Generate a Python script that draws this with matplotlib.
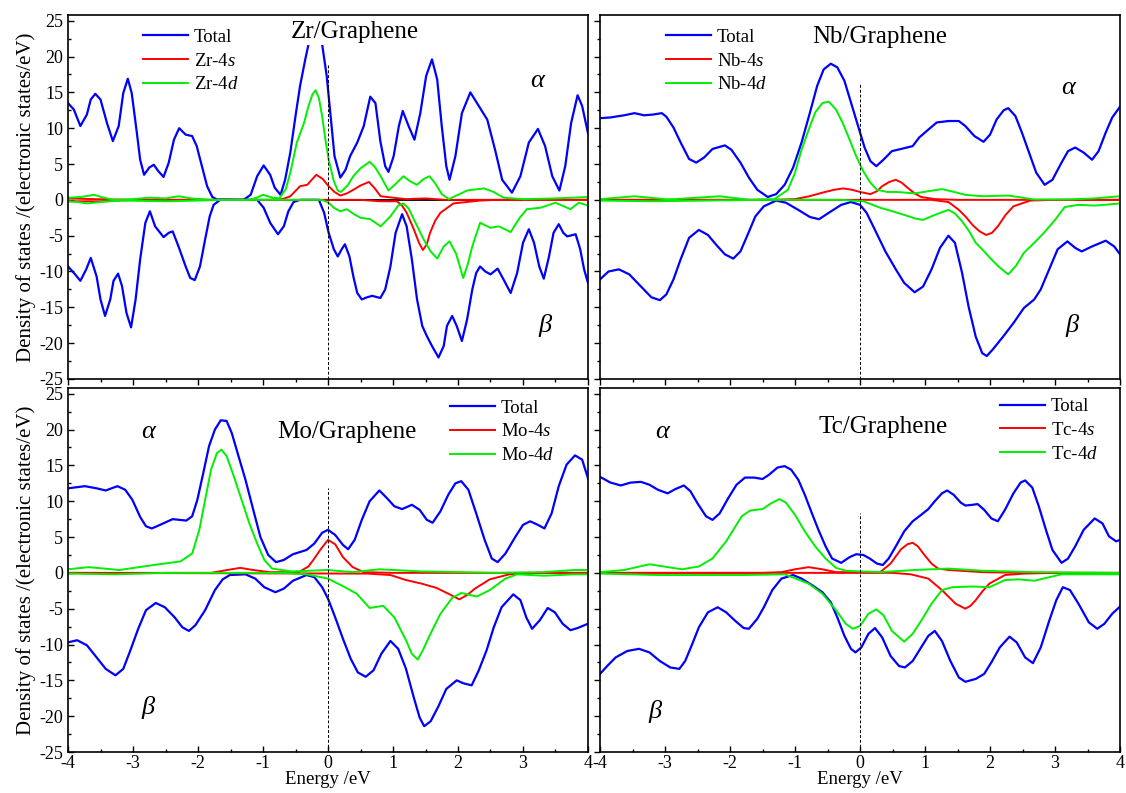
import matplotlib
matplotlib.use("Agg")
import matplotlib.pyplot as plt
from matplotlib.ticker import MultipleLocator

plt.rcParams['font.family'] = ['Liberation Serif', 'DejaVu Serif']
plt.rcParams['mathtext.fontset'] = 'custom'
plt.rcParams['mathtext.rm'] = 'Liberation Serif'
plt.rcParams['mathtext.it'] = 'Liberation Serif:italic'
plt.rcParams['axes.unicode_minus'] = False

# ---- data: (energy eV, DOS) ----
zr_tot_up = [(-4.0,13.5),(-3.91,12.6),(-3.81,10.3),(-3.71,11.9),(-3.65,14.0),(-3.58,14.8),(-3.50,14.0),
             (-3.40,10.7),(-3.31,8.2),(-3.22,10.3),(-3.15,14.9),(-3.08,16.9),(-3.02,14.9),(-2.94,9.3),
             (-2.89,5.6),(-2.83,3.5),(-2.75,4.5),(-2.68,4.9),(-2.61,4.0),(-2.53,3.2),(-2.45,5.2),
             (-2.37,8.4),(-2.29,10.0),(-2.19,9.1),(-2.09,8.9),(-2.02,7.5),(-1.94,4.7),(-1.86,1.9),
             (-1.78,0.4),(-1.71,0.05),(-1.30,0.0),(-1.19,0.7),(-1.09,3.3),(-0.99,4.8),(-0.89,3.5),
             (-0.82,1.7),(-0.73,0.7),(-0.66,2.8),(-0.58,6.6),(-0.50,11.7),(-0.43,15.9),(-0.35,19.6),
             (-0.30,21.7),(-0.2,24.5),(-0.09,21.7),(-0.02,17.3),(0.04,11.7),(0.10,6.1),(0.19,3.1),
             (0.27,4.2),(0.34,6.1),(0.45,8.0),(0.55,10.3),(0.65,14.4),(0.73,13.5),(0.805,8.2),(0.88,4.7),
             (0.93,3.9),(1.01,6.1),(1.09,10.3),(1.15,12.4),(1.24,10.3),(1.33,8.4),(1.42,12.1),(1.51,17.3),
             (1.60,19.6),(1.68,16.8),(1.75,10.3),(1.82,4.7),(1.87,2.8),(1.96,6.1),(2.06,12.1),(2.19,15.0),
             (2.32,13.1),(2.45,11.2),(2.57,7.0),(2.68,2.8),(2.83,1.0),(2.96,3.3),(3.09,8.0),(3.23,9.9),
             (3.34,7.5),(3.45,3.3),(3.56,1.3),(3.65,4.7),(3.74,10.7),(3.84,14.6),(3.91,13.1),(4.0,9.3)]
zr_tot_dn = [(-4.0,-9.3),(-3.91,-10.2),(-3.81,-11.3),(-3.72,-9.7),(-3.65,-8.1),(-3.56,-10.7),
             (-3.50,-13.9),(-3.43,-16.2),(-3.35,-13.9),(-3.30,-11.3),(-3.23,-10.3),(-3.17,-12.0),
             (-3.10,-15.8),(-3.03,-17.8),(-2.96,-13.9),(-2.89,-8.3),(-2.81,-3.2),(-2.74,-1.6),
             (-2.66,-3.7),(-2.53,-5.2),(-2.45,-4.6),(-2.39,-4.4),(-2.30,-6.5),(-2.19,-9.3),(-2.12,-10.9),
             (-2.05,-11.2),(-1.97,-9.3),(-1.89,-5.5),(-1.82,-2.3),(-1.76,-0.7),(-1.66,0.0),(-1.09,0.0),
             (-0.99,-1.1),(-0.89,-3.2),(-0.77,-4.8),(-0.68,-3.7),(-0.61,-1.6),(-0.53,-0.3),(-0.43,0.0),
             (-0.14,0.0),(-0.06,-1.8),(0.01,-4.6),(0.09,-6.9),(0.15,-7.9),(0.21,-6.9),(0.26,-6.2),
             (0.33,-7.9),(0.39,-10.7),(0.45,-13.0),(0.52,-13.9),(0.60,-13.6),(0.68,-13.4),(0.805,-13.7),
             (0.88,-12.5),(0.96,-9.3),(1.04,-4.6),(1.14,-2.0),(1.21,-3.7),(1.29,-8.3),(1.37,-13.9),
             (1.45,-17.6),(1.52,-19.0),(1.60,-20.4),(1.70,-22.0),(1.78,-20.4),(1.83,-17.6),(1.91,-16.2),
             (1.98,-17.6),(2.06,-19.7),(2.14,-16.7),(2.22,-12.5),(2.28,-10.2),(2.34,-9.3),(2.42,-10.0),
             (2.50,-10.4),(2.61,-9.6),(2.70,-11.1),(2.81,-13.0),(2.91,-10.2),(3.00,-6.0),(3.09,-4.1),
             (3.17,-6.0),(3.25,-9.3),(3.32,-11.0),(3.40,-7.9),(3.47,-4.6),(3.55,-3.4),(3.62,-4.6),
             (3.68,-5.1),(3.81,-4.8),(3.88,-6.9),(3.94,-9.7),(4.0,-11.6)]
zr_s_up = [(-4.0,0.2),(-3.6,0.1),(-3.0,0.0),(-0.9,0.0),(-0.7,0.1),(-0.58,0.5),(-0.43,1.9),(-0.32,2.1),
           (-0.25,2.8),(-0.18,3.5),(-0.08,2.9),(0.01,1.9),(0.10,1.1),(0.19,0.6),(0.29,0.9),(0.39,1.4),
           (0.5,2.0),(0.63,2.5),(0.72,1.6),(0.81,0.5),(1.0,0.3),(1.2,0.1),(1.5,0.2),(1.8,0.0),(4.0,0.0)]
zr_s_dn = [(-4.0,-0.2),(-3.5,-0.2),(-3.0,0.0),(0.5,0.0),(0.805,-0.2),(1.06,-0.2),(1.14,-0.8),
           (1.21,-1.8),(1.32,-4.1),(1.40,-6.0),(1.46,-7.0),(1.52,-6.2),(1.57,-4.6),(1.65,-2.9),
           (1.73,-1.8),(1.93,-0.5),(2.34,-0.1),(2.6,0.0),(4.0,0.0)]
zr_d_up = [(-4.0,0.3),(-3.8,0.4),(-3.6,0.7),(-3.45,0.3),(-3.3,0.0),(-3.0,0.1),(-2.75,0.3),(-2.5,0.2),
           (-2.3,0.5),(-2.1,0.2),(-1.8,0.0),(-1.2,0.0),(-1.1,0.3),(-1.0,0.7),(-0.85,0.3),(-0.75,0.2),
           (-0.65,1.5),(-0.58,3.8),(-0.48,8.0),(-0.37,10.7),(-0.30,13.1),(-0.24,14.7),(-0.19,15.3),
           (-0.14,14.2),(-0.09,11.7),(-0.04,8.4),(0.01,5.6),(0.09,2.6),(0.15,1.3),(0.20,1.1),(0.3,2.0),
           (0.39,3.3),(0.5,4.4),(0.64,5.3),(0.72,4.6),(0.81,3.3),(0.93,1.3),(1.05,2.3),(1.16,3.3),
           (1.26,2.6),(1.37,2.1),(1.47,2.9),(1.56,3.3),(1.65,2.3),(1.75,0.8),(1.86,0.1),(2.0,0.7),
           (2.14,1.3),(2.40,1.6),(2.55,1.1),(2.70,0.3),(3.01,0.1),(3.5,0.2),(4.0,0.4)]
zr_d_dn = [(-4.0,-0.2),(-3.85,-0.3),(-3.7,-0.5),(-3.5,-0.3),(-3.2,-0.1),(-2.5,-0.2),(-2.0,-0.1),
           (-1.6,0.0),(-0.1,0.0),(0.01,-0.4),(0.09,-1.1),(0.19,-1.6),(0.29,-1.3),(0.4,-2.0),(0.5,-2.5),
           (0.65,-2.7),(0.81,-3.7),(0.96,-2.3),(1.08,-0.8),(1.16,-0.5),(1.24,-1.2),(1.32,-2.7),
           (1.47,-5.5),(1.58,-7.2),(1.68,-8.2),(1.78,-6.5),(1.87,-5.8),(1.97,-7.5),(2.08,-10.9),
           (2.15,-9.0),(2.22,-6.5),(2.34,-3.2),(2.50,-3.9),(2.63,-3.7),(2.81,-4.5),(2.95,-2.5),
           (3.06,-1.3),(3.27,-1.1),(3.50,-0.4),(3.73,-1.3),(3.86,-0.4),(4.0,-0.8)]

nb_tot_up = [(-4.0,11.4),(-3.84,11.5),(-3.63,11.8),(-3.47,12.1),(-3.32,11.8),(-3.19,11.9),(-3.05,12.1),
             (-2.98,11.6),(-2.87,10.1),(-2.76,8.0),(-2.63,5.7),(-2.52,5.2),(-2.40,5.9),(-2.27,7.1),
             (-2.08,7.6),(-1.98,7.0),(-1.84,5.2),(-1.71,3.1),(-1.58,1.4),(-1.42,0.4),(-1.29,0.8),
             (-1.16,2.1),(-1.03,4.5),(-0.90,8.0),(-0.77,12.2),(-0.66,15.9),(-0.56,18.2),(-0.45,19.0),
             (-0.35,18.5),(-0.24,16.6),(-0.14,13.6),(-0.03,10.3),(0.07,7.3),(0.16,5.4),(0.25,4.7),
             (0.36,5.6),(0.49,6.8),(0.63,7.1),(0.81,7.5),(0.91,8.7),(1.05,9.8),(1.18,10.8),(1.36,11.0),
             (1.52,11.0),(1.62,10.3),(1.76,8.9),(1.90,8.1),(2.0,9.1),(2.10,11.2),(2.21,12.5),(2.28,12.8),
             (2.39,11.7),(2.49,9.4),(2.60,6.6),(2.71,3.8),(2.84,2.1),(2.96,2.8),(3.10,5.2),(3.20,6.8),
             (3.31,7.3),(3.44,6.6),(3.57,5.6),(3.67,6.8),(3.78,9.4),(3.88,11.5),(4.0,13.0)]
nb_tot_dn = [(-4.0,-11.1),(-3.87,-10.0),(-3.71,-9.7),(-3.55,-10.4),(-3.37,-12.1),(-3.21,-13.6),
             (-3.08,-14.0),(-2.98,-13.2),(-2.87,-11.1),(-2.76,-8.3),(-2.63,-5.3),(-2.48,-4.2),
             (-2.34,-4.9),(-2.21,-6.3),(-2.08,-7.6),(-1.95,-8.2),(-1.84,-7.2),(-1.74,-5.1),(-1.61,-2.3),
             (-1.48,-0.9),(-1.29,-0.1),(-1.14,-0.4),(-0.95,-1.4),(-0.77,-2.4),(-0.63,-2.7),(-0.48,-1.8),
             (-0.29,-0.7),(-0.14,-0.3),(0.0,-0.7),(0.10,-1.8),(0.23,-4.2),(0.39,-7.2),(0.55,-9.7),
             (0.68,-11.6),(0.84,-12.9),(0.97,-12.1),(1.10,-9.7),(1.23,-6.7),(1.36,-5.0),(1.46,-6.0),
             (1.57,-10.2),(1.67,-14.9),(1.78,-19.1),(1.88,-21.4),(1.95,-21.8),(2.04,-20.9),(2.20,-19.1),
             (2.36,-17.2),(2.52,-15.1),(2.68,-13.9),(2.78,-12.5),(2.91,-9.7),(3.04,-6.9),(3.19,-5.8),
             (3.31,-6.7),(3.41,-7.2),(3.57,-6.5),(3.78,-5.7),(3.91,-6.5),(4.0,-7.6)]
nb_s_up = [(-4.0,0.0),(-1.3,0.0),(-1.0,0.1),(-0.78,0.5),(-0.58,1.0),(-0.40,1.4),(-0.26,1.6),(-0.12,1.4),
           (0.0,1.1),(0.16,0.8),(0.26,1.2),(0.34,1.9),(0.45,2.5),(0.55,2.8),(0.64,2.4),(0.73,1.7),
           (0.84,0.9),(0.94,0.4),(1.15,0.1),(1.5,0.0),(4.0,0.0)]
nb_s_dn = [(-4.0,0.0),(1.10,0.0),(1.36,-0.3),(1.52,-1.4),(1.63,-2.4),(1.73,-3.5),(1.84,-4.4),
           (1.94,-4.9),(2.03,-4.6),(2.12,-3.7),(2.24,-2.1),(2.36,-0.9),(2.62,-0.1),(3.0,0.0),(4.0,0.0)]
nb_d_up = [(-4.0,0.1),(-3.47,0.5),(-2.95,0.05),(-2.16,0.5),(-1.69,0.0),(-1.32,0.1),(-1.11,1.4),
           (-1.0,3.8),(-0.90,7.0),(-0.79,9.8),(-0.69,12.2),(-0.58,13.5),(-0.48,13.7),(-0.37,12.6),
           (-0.27,10.8),(-0.16,8.4),(-0.06,6.1),(0.05,4.0),(0.15,2.5),(0.26,1.4),(0.42,1.1),(0.57,1.1),
           (0.84,0.9),(1.05,1.2),(1.26,1.5),(1.45,1.1),(1.62,0.7),(1.89,0.5),(2.28,0.6),(2.50,0.3),
           (2.68,0.05),(3.2,0.05),(3.6,0.2),(4.0,0.5)]
nb_d_dn = [(-4.0,-0.1),(-3.2,-0.2),(-1.5,0.0),(-0.3,0.0),(0.05,-0.2),(0.31,-1.1),(0.50,-1.6),
           (0.68,-2.1),(0.85,-2.6),(0.97,-2.8),(1.15,-2.1),(1.36,-1.4),(1.46,-1.9),(1.57,-3.0),
           (1.68,-4.4),(1.78,-6.0),(1.89,-7.0),(1.99,-8.0),(2.13,-9.3),(2.28,-10.4),(2.40,-9.2),
           (2.52,-7.4),(2.68,-6.0),(2.83,-4.6),(3.0,-2.8),(3.15,-1.0),(3.36,-0.7),(3.62,-0.8),
           (4.0,-0.5)]

mo_tot_up = [(-4.0,11.8),(-3.74,12.1),(-3.56,11.8),(-3.42,11.5),(-3.24,12.1),(-3.12,11.6),(-3.01,10.2),
             (-2.89,7.8),(-2.80,6.5),(-2.71,6.2),(-2.56,6.8),(-2.39,7.5),(-2.18,7.3),(-2.09,7.9),
             (-2.01,10.2),(-1.92,13.9),(-1.83,17.7),(-1.74,20.0),(-1.65,21.3),(-1.56,21.2),(-1.48,19.5),
             (-1.39,16.7),(-1.27,13.0),(-1.15,8.8),(-1.04,5.0),(-0.92,2.5),(-0.80,1.5),(-0.68,1.8),
             (-0.54,2.6),(-0.33,3.2),(-0.21,4.1),(-0.09,5.6),(0.0,6.0),(0.11,5.3),(0.23,3.9),(0.31,3.3),
             (0.41,4.6),(0.52,7.4),(0.64,10.0),(0.79,11.5),(0.91,10.4),(1.02,9.3),(1.14,8.9),(1.29,9.5),
             (1.41,8.8),(1.52,7.4),(1.61,7.0),(1.73,8.6),(1.85,10.9),(1.96,12.5),(2.05,12.8),(2.16,11.6),
             (2.28,8.3),(2.41,4.6),(2.52,2.0),(2.61,1.5),(2.73,2.7),(2.88,5.0),(3.0,6.7),(3.11,7.2),
             (3.23,6.7),(3.33,6.2),(3.44,8.3),(3.55,12.1),(3.67,15.1),(3.80,16.4),(3.91,15.8),(4.0,13.2)]
mo_tot_dn = [(-4.0,-9.7),(-3.86,-9.4),(-3.71,-10.1),(-3.56,-11.8),(-3.42,-13.4),(-3.27,-14.3),
             (-3.15,-13.4),(-3.04,-10.8),(-2.92,-7.8),(-2.80,-5.2),(-2.65,-4.2),(-2.51,-4.8),
             (-2.36,-6.2),(-2.24,-7.6),(-2.14,-8.1),(-2.04,-7.3),(-1.89,-5.2),(-1.74,-2.4),(-1.62,-0.9),
             (-1.51,-0.3),(-1.27,-0.2),(-1.12,-0.8),(-0.98,-2.0),(-0.81,-2.7),(-0.68,-2.2),(-0.54,-1.1),
             (-0.33,-0.3),(-0.21,-0.6),(-0.09,-2.0),(0.0,-3.6),(0.11,-6.2),(0.23,-9.2),(0.35,-12.0),
             (0.46,-13.9),(0.58,-14.5),(0.70,-13.6),(0.82,-11.3),(0.96,-9.5),(1.08,-10.6),(1.20,-13.4),
             (1.32,-17.4),(1.41,-20.2),(1.48,-21.4),(1.58,-20.7),(1.70,-18.6),(1.82,-16.2),(1.98,-15.0),
             (2.08,-15.4),(2.21,-15.7),(2.32,-13.6),(2.44,-10.8),(2.55,-7.6),(2.67,-4.8),(2.85,-3.0),
             (2.96,-3.8),(3.05,-6.2),(3.14,-7.8),(3.26,-6.6),(3.38,-4.9),(3.49,-5.5),(3.61,-7.1),
             (3.73,-8.0),(3.84,-7.7),(4.0,-7.1)]
mo_s_up = [(-4.0,0.0),(-1.8,0.0),(-1.55,0.4),(-1.35,0.7),(-1.15,0.4),(-0.9,0.1),(-0.45,0.1),
           (-0.30,0.9),(-0.21,2.0),(-0.12,3.2),(0.0,4.6),(0.11,4.0),(0.23,2.2),(0.38,0.8),(0.55,0.1),
           (1.0,0.0),(4.0,0.0)]
mo_s_dn = [(-4.0,0.0),(0.61,-0.1),(0.96,-0.3),(1.2,-1.0),(1.44,-1.5),(1.67,-2.1),(1.85,-2.9),
           (2.02,-3.7),(2.14,-3.1),(2.26,-2.2),(2.49,-0.9),(2.79,-0.2),(3.2,0.0),(4.0,0.0)]
mo_d_up = [(-4.0,0.5),(-3.68,0.8),(-3.21,0.4),(-2.68,1.1),(-2.27,1.6),(-2.09,2.7),(-1.98,6.0),
           (-1.89,10.2),(-1.80,14.4),(-1.71,16.7),(-1.64,17.2),(-1.56,16.3),(-1.45,13.5),(-1.33,10.2),
           (-1.21,6.9),(-1.09,4.1),(-0.98,1.8),(-0.86,0.6),(-0.56,0.2),(0.0,0.4),(0.38,0.1),(0.79,0.5),
           (1.44,0.2),(2.02,0.1),(2.61,0.0),(3.32,0.1),(3.79,0.4),(4.0,0.4)]
mo_d_dn = [(-4.0,-0.1),(-3.27,-0.2),(-2.5,0.0),(-0.7,0.0),(-0.33,-0.2),(0.0,-0.8),(0.26,-2.0),
           (0.44,-2.9),(0.64,-4.9),(0.85,-4.6),(1.02,-6.2),(1.2,-9.4),(1.29,-11.3),(1.38,-12.1),
           (1.46,-10.8),(1.55,-9.0),(1.73,-5.7),(1.91,-3.5),(2.05,-2.8),(2.29,-3.3),(2.49,-2.4),
           (2.73,-0.8),(2.91,-0.2),(3.32,-0.4),(3.79,-0.2),(4.0,-0.2)]

tc_tot_up = [(-4.0,13.4),(-3.84,12.6),(-3.68,12.2),(-3.53,12.6),(-3.37,12.7),(-3.24,12.3),(-3.11,11.6),
             (-2.96,11.1),(-2.84,11.7),(-2.71,12.2),(-2.61,11.4),(-2.50,9.7),(-2.37,7.9),(-2.27,7.4),
             (-2.16,8.3),(-2.03,10.4),(-1.90,12.3),(-1.77,13.3),(-1.63,13.3),(-1.50,13.1),(-1.40,13.7),
             (-1.27,14.7),(-1.16,14.9),(-1.06,14.4),(-0.95,13.0),(-0.85,10.9),(-0.74,8.3),(-0.64,6.0),
             (-0.53,3.7),(-0.43,2.0),(-0.29,1.4),(-0.16,2.2),(-0.06,2.6),(0.05,2.5),(0.15,2.0),
             (0.26,1.3),(0.35,1.1),(0.44,2.0),(0.55,3.7),(0.68,5.8),(0.81,7.2),(0.94,8.1),(1.05,8.9),
             (1.15,10.0),(1.26,11.1),(1.34,11.5),(1.44,10.9),(1.55,9.8),(1.62,9.4),(1.73,9.5),(1.81,9.6),
             (1.91,8.8),(2.02,7.6),(2.12,7.2),(2.23,8.8),(2.36,11.1),(2.47,12.6),(2.54,12.9),(2.65,11.9),
             (2.75,9.3),(2.86,6.0),(2.96,3.2),(3.10,1.4),(3.20,2.0),(3.31,3.7),(3.44,6.0),(3.61,7.6),
             (3.73,6.9),(3.83,5.1),(3.94,4.4),(4.0,4.6)]
tc_tot_dn = [(-4.0,-14.1),(-3.89,-13.0),(-3.76,-11.8),(-3.58,-10.9),(-3.40,-10.6),(-3.24,-11.1),
             (-3.08,-12.3),(-2.92,-13.2),(-2.78,-13.4),(-2.69,-12.3),(-2.58,-9.9),(-2.48,-7.6),
             (-2.34,-5.5),(-2.19,-4.8),(-2.06,-5.5),(-1.92,-6.7),(-1.79,-7.7),(-1.71,-7.8),(-1.58,-6.4),
             (-1.48,-4.8),(-1.35,-2.4),(-1.21,-0.8),(-1.03,-0.3),(-0.90,-0.8),(-0.74,-1.7),(-0.58,-2.7),
             (-0.45,-4.1),(-0.35,-6.2),(-0.24,-8.8),(-0.14,-10.6),(-0.07,-11.1),(0.02,-10.4),(0.13,-8.5),
             (0.23,-7.7),(0.34,-9.0),(0.47,-11.6),(0.60,-13.0),(0.69,-13.2),(0.81,-12.3),(0.94,-10.4),
             (1.05,-8.8),(1.15,-8.1),(1.26,-9.5),(1.39,-12.3),(1.52,-14.6),(1.62,-15.2),(1.78,-14.8),
             (1.91,-14.1),(2.02,-12.5),(2.15,-10.4),(2.30,-8.9),(2.41,-9.7),(2.54,-11.8),(2.66,-12.6),
             (2.78,-10.4),(2.91,-6.7),(3.02,-3.8),(3.12,-2.0),(3.23,-2.4),(3.36,-4.3),(3.52,-6.9),
             (3.65,-7.8),(3.76,-7.1),(3.88,-5.7),(4.0,-4.7)]
tc_s_up = [(-4.0,0.0),(-1.5,0.0),(-1.21,0.1),(-1.0,0.5),(-0.79,0.8),(-0.58,0.5),(-0.37,0.1),(0.31,0.1),
           (0.47,1.3),(0.63,3.3),(0.73,4.0),(0.81,4.2),(0.89,3.7),(0.99,2.5),(1.10,1.3),(1.20,0.6),
           (1.36,0.4),(1.89,0.1),(2.5,0.0),(4.0,0.0)]
tc_s_dn = [(-4.0,0.0),(0.5,0.0),(0.78,-0.2),(1.05,-0.8),(1.26,-2.4),(1.37,-3.4),(1.47,-4.3),
           (1.62,-5.0),(1.70,-4.6),(1.78,-3.8),(1.89,-2.5),(1.99,-1.5),(2.23,-0.3),(2.52,-0.1),
           (3.0,0.0),(4.0,0.0)]
tc_d_up = [(-4.0,0.1),(-3.63,0.4),(-3.24,1.2),(-2.74,0.5),(-2.48,0.9),(-2.27,2.0),(-2.06,4.4),
           (-1.95,6.0),(-1.82,7.9),(-1.69,8.7),(-1.50,8.9),(-1.37,9.7),(-1.24,10.3),(-1.14,9.8),
           (-1.0,8.1),(-0.85,5.8),(-0.69,3.7),(-0.53,2.0),(-0.37,0.7),(-0.22,0.3),(0.0,0.2),(0.31,0.1),
           (0.84,0.4),(1.36,0.6),(1.89,0.3),(2.68,0.1),(4.0,0.0)]
tc_d_dn = [(-4.0,-0.1),(-3.11,-0.3),(-1.79,-0.3),(-1.16,-0.2),(-0.79,-1.5),(-0.58,-2.9),(-0.37,-5.2),
           (-0.22,-7.1),(-0.11,-7.8),(0.0,-7.4),(0.13,-5.7),(0.25,-5.1),(0.36,-5.9),(0.49,-8.1),
           (0.68,-9.6),(0.81,-8.5),(0.94,-6.7),(1.10,-4.3),(1.26,-2.4),(1.42,-2.0),(1.73,-1.9),
           (1.99,-2.0),(2.23,-1.0),(2.44,-0.9),(2.68,-1.1),(3.10,-0.2),(4.0,-0.2)]

elements = ['Zr', 'Nb', 'Mo', 'Tc']
fermi_top = [19.0, 16.2, 11.8, 8.4]

curves = {
    'Zr': (zr_tot_up, zr_tot_dn, zr_s_up, zr_s_dn, zr_d_up, zr_d_dn),
    'Nb': (nb_tot_up, nb_tot_dn, nb_s_up, nb_s_dn, nb_d_up, nb_d_dn),
    'Mo': (mo_tot_up, mo_tot_dn, mo_s_up, mo_s_dn, mo_d_up, mo_d_dn),
    'Tc': (tc_tot_up, tc_tot_dn, tc_s_up, tc_s_dn, tc_d_up, tc_d_dn),
}

# layout (figure fractions) and text positions (axes fractions)
boxes = [[0.0604, 0.5221, 0.4618, 0.459], [0.5329, 0.5221, 0.4618, 0.459],
         [0.0604, 0.0517, 0.4618, 0.459], [0.5329, 0.0517, 0.4618, 0.459]]
title_xy = [(0.552, 0.953), (0.538, 0.94), (0.537, 0.879), (0.544, 0.893)]
legend_xy = [(0.144, 0.962), (0.127, 0.962), (0.735, 0.968), (0.77, 0.972)]
alpha_xy = [(0.902, 0.82), (0.90, 0.80), (0.154, 0.879), (0.119, 0.879)]
beta_xy = [(0.917, 0.148), (0.908, 0.148), (0.154, 0.121), (0.106, 0.11)]

BLUE, RED, GREEN = '#0000ff', '#ff0000', '#00f000'


def xy(pairs):
    return [p[0] for p in pairs], [p[1] for p in pairs]


fig = plt.figure(figsize=(11.26, 7.93), dpi=100)

for i, el in enumerate(elements):
    ax = fig.add_axes(boxes[i])
    tot_up, tot_dn, s_up, s_dn, d_up, d_dn = curves[el]
    if el == 'Zr':
        ax.hlines(0, -3, 3, color='k', lw=1.3, zorder=1)
    ax.plot(*xy(tot_up), color=BLUE, lw=1.6, label='Total')
    ax.plot(*xy(tot_dn), color=BLUE, lw=1.6)
    ax.plot(*xy(s_up), color=RED, lw=1.4, label=el + '-4$\\it{s}$')
    ax.plot(*xy(s_dn), color=RED, lw=1.4)
    ax.plot(*xy(d_up), color=GREEN, lw=1.4, label=el + '-4$\\it{d}$')
    ax.plot(*xy(d_dn), color=GREEN, lw=1.4)
    ax.vlines(0, -25, fermi_top[i], colors='k', linestyles=(0, (3, 2)), lw=0.7)

    ax.set_xlim(-4, 4)
    ax.set_ylim(-25, 25.8)
    ax.xaxis.set_major_locator(MultipleLocator(1))
    ax.xaxis.set_minor_locator(MultipleLocator(0.5))
    ax.yaxis.set_major_locator(MultipleLocator(5))
    ax.yaxis.set_minor_locator(MultipleLocator(2.5))
    ax.tick_params(which='both', top=False, right=False, labelsize=13, width=1.0)
    ax.tick_params(which='major', length=4)
    ax.tick_params(which='minor', length=2.5)
    # left column: y ticks inward; right column: outward. bottom row: x ticks inward
    ax.tick_params(axis='y', which='both', direction='in' if i % 2 == 0 else 'out')
    ax.tick_params(axis='x', which='both', direction='out' if i < 2 else 'in', pad=2)
    for sp in ax.spines.values():
        sp.set_linewidth(1.2)

    if i % 2 == 0:
        ax.set_ylabel('Density of states /(electronic states/eV)', fontsize=15, labelpad=2)
    else:
        ax.tick_params(axis='y', labelleft=False)
    if i < 2:
        ax.tick_params(axis='x', labelbottom=False)
    else:
        ax.set_xlabel('Energy /eV', fontsize=13.5)
        ax.xaxis.set_label_coords(0.5, -0.052)

    ax.text(*title_xy[i], el + '/Graphene', transform=ax.transAxes, ha='center', va='center',
            fontsize=18, zorder=5, bbox=dict(fc='white', ec='none', pad=1))
    ax.text(*alpha_xy[i], '\u03b1', transform=ax.transAxes, ha='center', va='center',
            fontsize=19, style='italic')
    ax.text(*beta_xy[i], '\u03b2', transform=ax.transAxes, ha='center', va='center',
            fontsize=19, style='italic')
    ax.legend(loc='upper left', bbox_to_anchor=legend_xy[i], frameon=False, fontsize=13.5,
              handlelength=2.4, handletextpad=0.3, labelspacing=0.35, borderpad=0,
              borderaxespad=0)

fig.savefig('out.png', dpi=100)
